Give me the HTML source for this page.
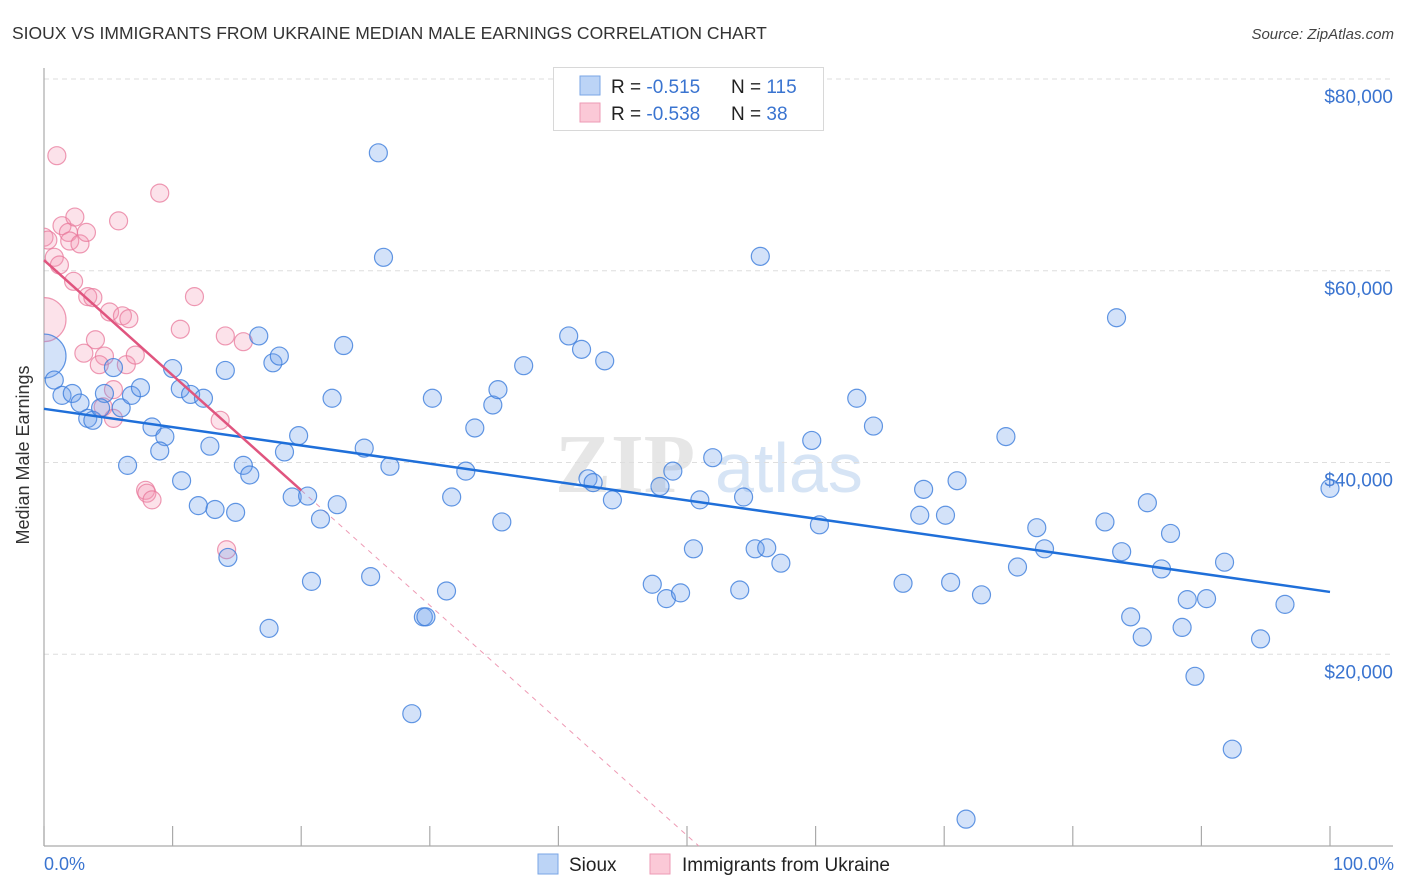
<!DOCTYPE html>
<html><head><meta charset="utf-8">
<style>
body{margin:0;background:#fff;font-family:"Liberation Sans",sans-serif;}
#wrap{position:relative;width:1406px;height:892px;overflow:hidden;}
</style></head>
<body>
<div id="wrap">
<svg id="chart" width="1406" height="892" xmlns="http://www.w3.org/2000/svg">
  <text x="12" y="39" font-size="17.5" fill="#333">SIOUX VS IMMIGRANTS FROM UKRAINE MEDIAN MALE EARNINGS CORRELATION CHART</text>
  <text x="1394" y="39" font-size="15" fill="#444" font-style="italic" text-anchor="end">Source: ZipAtlas.com</text>
  <text x="29" y="455" font-size="18" fill="#333" text-anchor="middle" transform="rotate(-90 29 455)">Median Male Earnings</text>
  <text x="555" y="492" font-size="84" fill="#e6e6e6" font-family="Liberation Serif, serif" font-weight="bold">ZIP</text>
  <text x="715" y="492" font-size="70" fill="#d6e4f5">atlas</text>
  <g id="grid"></g>
  <g id="axes"></g>
  <g id="lines"></g>
  <g id="pts"></g>
  <g>
    <rect x="553.5" y="67.5" width="270" height="63" fill="#fff" stroke="#d8d8d8"/>
    <rect x="580" y="76" width="20" height="19" fill="#bcd4f6" stroke="#7aa6e6"/>
    <rect x="580" y="103" width="20" height="19" fill="#fbc9d7" stroke="#ee9ab4"/>
    <text x="611" y="93" font-size="19" fill="#222">R = <tspan fill="#3a74d0">-0.515</tspan></text>
    <text x="731" y="93" font-size="19" fill="#222">N = <tspan fill="#3a74d0">115</tspan></text>
    <text x="611" y="120" font-size="19" fill="#222">R = <tspan fill="#3a74d0">-0.538</tspan></text>
    <text x="731" y="120" font-size="19" fill="#222">N = <tspan fill="#3a74d0"> 38</tspan></text>
  </g>
  <g>
    <rect x="538" y="854" width="20" height="20" fill="#bcd4f6" stroke="#7aa6e6"/>
    <text x="569" y="871" font-size="19" fill="#222">Sioux</text>
    <rect x="650" y="854" width="20" height="20" fill="#fbc9d7" stroke="#ee9ab4"/>
    <text x="682" y="871" font-size="19" fill="#222">Immigrants from Ukraine</text>
  </g>
  <text x="44" y="870" font-size="18" fill="#3a74d0">0.0%</text>
  <text x="1394" y="870" font-size="18" fill="#3a74d0" text-anchor="end">100.0%</text>
</svg>
</div>
<script>
const yTicks = [20000, 40000, 60000, 80000];
const yTickLabels = ["$20,000", "$40,000", "$60,000", "$80,000"];
const xTicks = [0,10,20,30,40,50,60,70,80,90,100];
const siouxX = [0,0.8,1.4,2.2,2.8,3.4,3.8,4.7,4.4,5.4,6.0,6.8,7.5,8.4,9.4,9.0,6.5,10.0,10.7,10.6,11.4,12.4,12.0,13.3,12.9,14.1,14.3,14.9,15.5,16.0,16.7,17.8,18.3,18.7,19.8,19.3,20.5,20.8,21.5,22.8,23.3,22.4,24.9,25.4,26.0,26.4,26.9,17.5,28.6,29.5,29.7,30.2,31.3,31.7,32.8,33.5,34.9,35.3,35.6,37.3,40.8,41.8,42.3,42.7,43.6,44.2,47.3,47.9,48.4,48.9,49.5,50.5,51.0,52.0,54.1,54.4,55.3,56.2,57.3,55.7,59.7,60.3,63.2,64.5,66.8,68.1,68.4,70.1,70.5,71.0,71.7,72.9,74.8,75.7,77.2,77.8,82.5,83.4,83.8,84.5,85.4,85.8,86.9,87.6,88.5,88.9,89.5,90.4,91.8,92.4,94.6,96.5,100];
const siouxY = [51.1,48.6,47.0,47.2,46.2,44.6,44.4,47.2,45.7,49.9,45.7,47.0,47.8,43.7,42.7,41.2,39.7,49.8,38.1,47.7,47.1,46.7,35.5,35.1,41.7,49.6,30.1,34.8,39.7,38.7,53.2,50.4,51.1,41.1,42.8,36.4,36.5,27.6,34.1,35.6,52.2,46.7,41.5,28.1,72.3,61.4,39.6,22.7,13.8,23.9,23.9,46.7,26.6,36.4,39.1,43.6,46.0,47.6,33.8,50.1,53.2,51.8,38.3,37.9,50.6,36.1,27.3,37.5,25.8,39.1,26.4,31.0,36.1,40.5,26.7,36.4,31.0,31.1,29.5,61.5,42.3,33.5,46.7,43.8,27.4,34.5,37.2,34.5,27.5,38.1,2.8,26.2,42.7,29.1,33.2,31.0,33.8,55.1,30.7,23.9,21.8,35.8,28.9,32.6,22.8,25.7,17.7,25.8,29.6,10.1,21.6,25.2,37.3];
const ukrX = [1.0,0,0.3,0.8,1.4,1.9,2.0,2.4,2.8,3.3,1.2,2.3,3.4,3.8,0,5.8,9.0,11.7,5.1,6.1,6.6,4.0,3.1,4.7,4.3,6.4,7.1,10.6,14.1,15.5,5.4,4.6,5.4,7.9,8.0,8.4,13.7,14.2];
const ukrY = [72.0,63.5,63.2,61.4,64.7,64.0,63.1,65.6,62.8,64.0,60.6,58.9,57.3,57.2,54.9,65.2,68.1,57.3,55.7,55.3,55.0,52.8,51.4,51.1,50.2,50.2,51.2,53.9,53.2,52.6,47.6,45.8,44.6,37.1,36.8,36.1,44.4,30.9];
const siouxBig = [0];
const ukrBig = [14];
const siouxTrend = [45.6, 26.5];   // value at 0% and 100% (thousands)
const ukrTrend = [61.1, 37.1];     // value at 0% and 20% (thousands)

const NS = "http://www.w3.org/2000/svg";
const X0 = 44, X1 = 1330, Y0 = 846, Y80 = 79;
function sx(p){ return X0 + (X1 - X0) * p / 100; }
function sy(v){ return Y0 - (Y0 - Y80) * v / 80000; }
function mk(tag, attrs, parent){ const e = document.createElementNS(NS, tag); for (const k in attrs) e.setAttribute(k, attrs[k]); parent.appendChild(e); return e; }

const grid = document.getElementById('grid');
yTicks.forEach((t, i) => {
  const l = mk('line', {x1: X0, x2: 1393, y1: sy(t), y2: sy(t), stroke: '#dedede', 'stroke-dasharray': '5,4'}, grid);
  
  
  const tx = mk('text', {x: 1393, y: sy(t) + 24, 'font-size': 19, fill: '#3a74d0', 'text-anchor': 'end'}, grid);
  tx.textContent = yTickLabels[i];
  
  
});
const axes = document.getElementById('axes');
const ya = mk('line', {x1: X0, x2: X0, y1: 68, y2: Y0, stroke: '#aaa', 'stroke-width': 1.2}, axes);


const xa = mk('line', {x1: X0, x2: 1393, y1: Y0, y2: Y0, stroke: '#aaa', 'stroke-width': 1.2}, axes);


xTicks.forEach(t => {
  const tk = mk('line', {x1: sx(t), x2: sx(t), y1: 826, y2: Y0, stroke: '#aaa', 'stroke-width': 1.2}, axes);
  
  
});

const lines = document.getElementById('lines');
const slopeU = (ukrTrend[1] - ukrTrend[0]) / 20;
const zeroX = -ukrTrend[0] / slopeU;
const ud = mk('line', {x1: sx(20), y1: sy(ukrTrend[1]*1000), x2: sx(zeroX), y2: sy(0), stroke: '#ee9ab4', 'stroke-width': 1, 'stroke-dasharray': '5,5'}, lines);



const pts = document.getElementById('pts');
function drawSeries(xs, ys, big, fill, stroke, name){
  xs.forEach((x, i) => {
    const r = big.includes(i) ? 22 : 9;
    const c = mk('circle', {cx: sx(x), cy: sy(ys[i]*1000), r: r, fill: fill, stroke: stroke, 'stroke-width': 1.2, 'clip-path': 'url(#plotclip)'}, pts);
    
    
  });
}
const defs = mk('defs', {}, document.getElementById('chart'));
const cp = mk('clipPath', {id: 'plotclip'}, defs);
mk('rect', {x: X0, y: 60, width: 1360, height: 790}, cp);
drawSeries(ukrX, ukrY, ukrBig, 'rgba(245,150,180,0.28)', 'rgba(232,120,155,0.75)', 'ukraine-point');
drawSeries(siouxX, siouxY, siouxBig, 'rgba(110,160,235,0.3)', 'rgba(60,125,220,0.8)', 'sioux-point');

const bl = mk('line', {x1: sx(0), y1: sy(siouxTrend[0]*1000), x2: sx(100), y2: sy(siouxTrend[1]*1000), stroke: '#1f6fd9', 'stroke-width': 2.5}, pts);


const pl = mk('line', {x1: sx(0), y1: sy(ukrTrend[0]*1000), x2: sx(20), y2: sy(ukrTrend[1]*1000), stroke: '#e0557f', 'stroke-width': 2.5}, pts);


</script>
</body></html>
